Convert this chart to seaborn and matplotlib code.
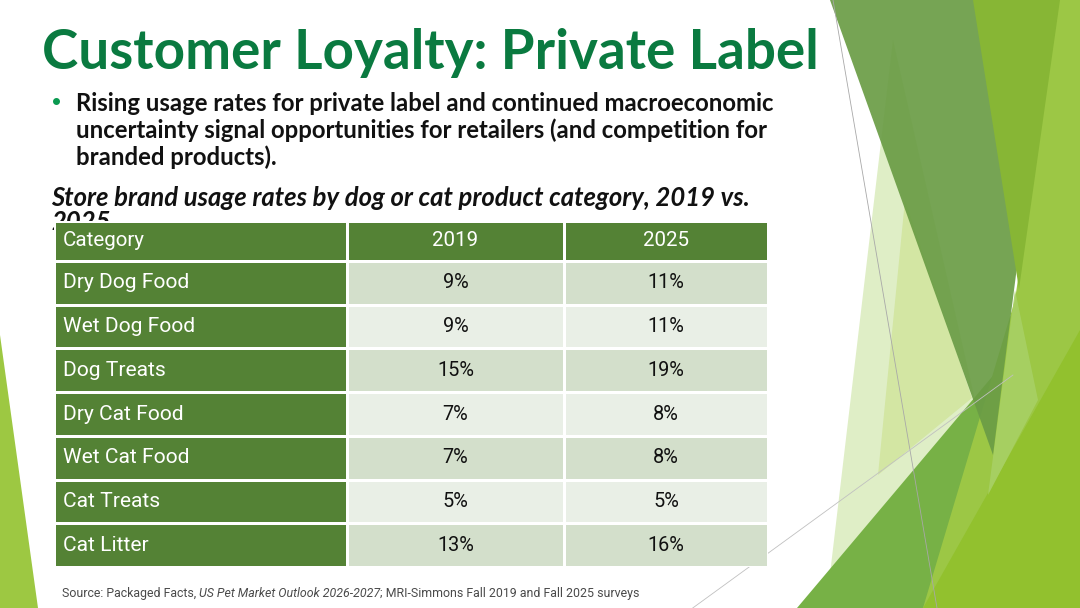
import numpy as np
import pandas as pd
import seaborn as sns
import matplotlib.pyplot as plt
from matplotlib.colors import ListedColormap
from matplotlib import font_manager as fm

sns.set_style('white')

# table values
categories = ['Dry Dog Food', 'Wet Dog Food', 'Dog Treats', 'Dry Cat Food',
              'Wet Cat Food', 'Cat Treats', 'Cat Litter']
usage_2019 = [9, 9, 15, 7, 7, 5, 13]
usage_2025 = [11, 11, 19, 8, 8, 5, 16]
years = ['2019', '2025']

title = 'Customer Loyalty: Private Label'
bullet_lines = ['Rising usage rates for private label and continued macroeconomic',
                'uncertainty signal opportunities for retailers (and competition for',
                'branded products).']
subtitle = 'Store brand usage rates by dog or cat product category, 2019 vs.\n2025'
source_parts = [('Source: Packaged Facts, ', 'normal'),
                ('US Pet Market Outlook 2026-2027', 'italic'),
                ('; MRI-Simmons Fall 2019 and Fall 2025 surveys', 'normal')]

df = pd.DataFrame({'Category': categories, '2019': usage_2019, '2025': usage_2025})

installed = {f.name for f in fm.fontManager.ttflist}


def pick(*names):
    for n in names:
        if n in installed:
            return n
    return 'DejaVu Sans'


head_font = pick('Lato', 'Open Sans', 'Noto Sans')
body_font = pick('Lato', 'Open Sans', 'Noto Sans')
cell_font = pick('Liberation Sans Narrow', 'Roboto', 'Noto Sans')

DARK = '#548235'
ROW_COLORS = ['#d3dfcb', '#e9efe6']
W, H = 1080, 608

fig = plt.figure(figsize=(10.8, 6.08), dpi=100)
renderer = fig.canvas.get_renderer()

bg = fig.add_axes([0, 0, 1, 1], zorder=0)
bg.set_xlim(0, W)
bg.set_ylim(H, 0)
bg.axis('off')

# facet style decoration
deco = [
    ([(0, 335), (38, 608), (0, 608)], '#9dc842', 1),
    ([(893, 40), (975, 400), (826, 608)], '#dfeec6', 1),
    ([(905, 200), (972, 398), (878, 475)], '#d3e6a3', 1),
    ([(797, 608), (1040, 320), (1000, 608)], '#77b146', 1),
    ([(1058, 0), (1080, 0), (1080, 608), (923, 608), (1015, 300)], '#9cc745', 1),
    ([(1080, 330), (1080, 608), (923, 608)], '#92c12e', 1),
    ([(1015, 290), (1038, 400), (988, 495)], '#a8d065', 0.9),
    ([(830, 0), (1051, 0), (993, 455)], '#6a9c45', 0.92),
    ([(973, 0), (1060, 0), (1019, 289)], '#87b635', 1),
]
for pts, col, a in deco:
    xs, ys = zip(*pts)
    bg.fill(xs, ys, color=col, alpha=a, lw=0)
bg.plot([833, 937], [0, 608], color='#a8a8a8', lw=0.6)
bg.plot([690, 1013], [610, 375], color='#c0c0c0', lw=0.6)


def fit_text(x, y, s, target, **kw):
    t = bg.text(x, y, s, fontsize=20, **kw)
    w = t.get_window_extent(renderer=renderer).width
    t.set_fontsize(20 * target / w)
    return t


fit_text(42, 69, title, 776, color='#0a7a40', fontweight='bold',
         family=head_font, va='baseline')

t = fit_text(76, 111, bullet_lines[0], 696, color='#111111', fontweight='bold',
             family=body_font, va='baseline')
bsize = t.get_fontsize()
for i, line in enumerate(bullet_lines[1:], start=1):
    bg.text(76, 111 + 27 * i, line, fontsize=bsize, color='#111111',
            fontweight='bold', family=body_font, va='baseline')
bg.plot([56], [101], 'o', color='#0a9a50', ms=4)

sub = bg.text(51, 202, subtitle.split('\n')[0], fontsize=20, fontweight='bold',
              style='italic', family=body_font, va='baseline', color='#111111')
sw = sub.get_window_extent(renderer=renderer).width
sub.set_fontsize(20 * 697 / sw)
sub.set_text(subtitle)
sub.set_linespacing(1.0)
sub.set_va('top')
sub.set_y(186)

# source line with italic middle part
parts = []
x = 62
for s, st in source_parts:
    p = bg.text(x, 597, s, fontsize=8, style=st, color='#4a4a4a',
                family=cell_font, va='baseline')
    parts.append(p)
    x += p.get_window_extent(renderer=renderer).width
total = x - 62
scale = 583 / total
x = 62
for p in parts:
    p.set_fontsize(8 * scale)
    p.set_x(x)
    x += p.get_window_extent(renderer=renderer).width

# table
col_edges = [54, 347, 564, 768]
head_top, head_bot, body_bot = 221, 261, 567


def px_axes(x0, y0, x1, y1):
    return fig.add_axes([x0 / W, 1 - y1 / H, (x1 - x0) / W, (y1 - y0) / H], zorder=2)


probe = bg.text(0, 0, categories[0], fontsize=20, family=cell_font)
csize = 20 * 126 / probe.get_window_extent(renderer=renderer).width
probe.remove()

headers = ['Category'] + years
parity = np.array([[i % 2] for i in range(len(categories))])
for j in range(3):
    x0, x1 = col_edges[j], col_edges[j + 1]
    hax = px_axes(x0, head_top, x1, head_bot)
    sns.heatmap(np.zeros((1, 1)), ax=hax, cmap=ListedColormap([DARK]), cbar=False,
                linewidths=1.0, linecolor='white', xticklabels=False, yticklabels=False)
    if j == 0:
        hax.text(0.03, 0.5, headers[j], color='white', fontsize=csize * 0.98,
                 family=cell_font, va='center', ha='left')
    else:
        hax.text(0.5, 0.5, headers[j], color='white', fontsize=csize * 0.98,
                 family=cell_font, va='center', ha='center')

    bax = px_axes(x0, head_bot, x1, body_bot)
    if j == 0:
        sns.heatmap(np.zeros((len(categories), 1)), ax=bax, cmap=ListedColormap([DARK]),
                    cbar=False, linewidths=1.0, linecolor='white',
                    xticklabels=False, yticklabels=False)
        for i, c in enumerate(df['Category']):
            bax.text(0.03, i + 0.5, c, color='white', fontsize=csize,
                     family=cell_font, va='center', ha='left')
    else:
        vals = df[years[j - 1]]
        labels = np.array([[f'{v}%'] for v in vals])
        sns.heatmap(parity, ax=bax, cmap=ListedColormap(ROW_COLORS), vmin=0, vmax=1,
                    cbar=False, linewidths=1.0, linecolor='white',
                    annot=labels, fmt='', xticklabels=False, yticklabels=False,
                    annot_kws={'color': '#111111', 'fontsize': csize * 0.95,
                               'family': cell_font})

fig.savefig('out.png', dpi=100)
